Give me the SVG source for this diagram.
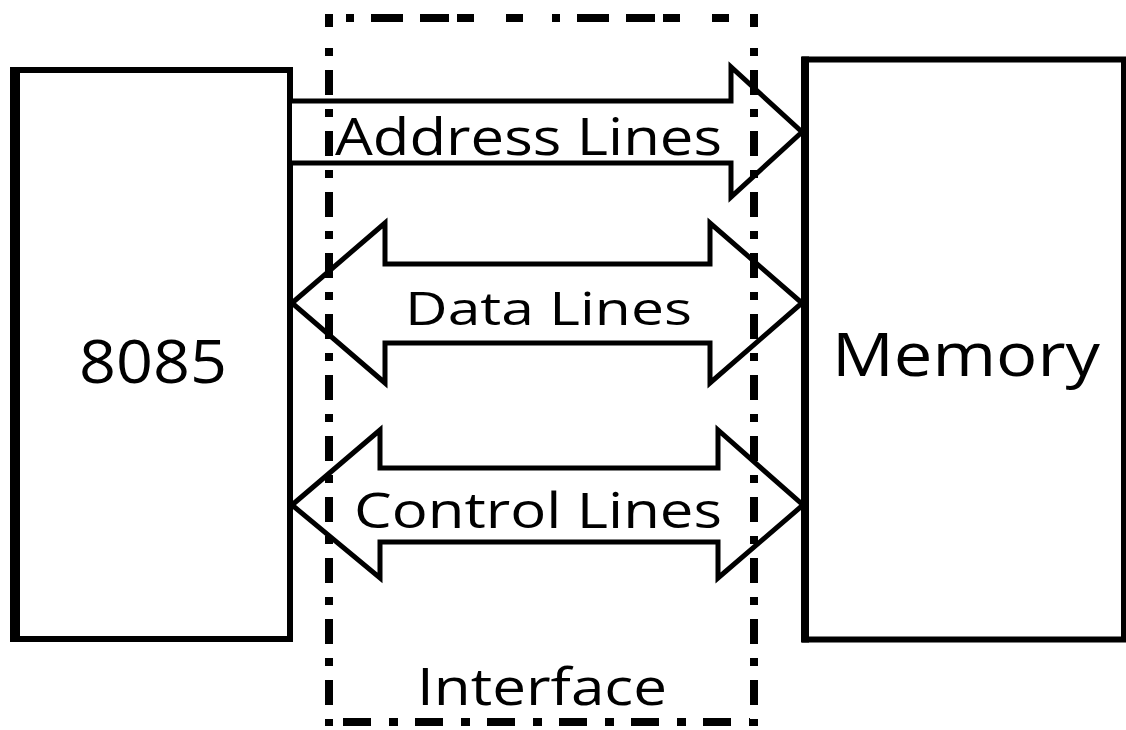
<svg xmlns="http://www.w3.org/2000/svg" width="1126" height="730" viewBox="0 0 1126 730">
  <style>
    .box { fill: #ffffff; stroke: #000000; stroke-width: 6; }
    .edge { stroke: #000000; fill: none; }
    .bus { fill: #ffffff; stroke: #000000; stroke-width: 5; stroke-linejoin: miter; stroke-miterlimit: 10; }
    .iface { stroke: #000000; stroke-width: 8; fill: none; stroke-linecap: butt; }
    .lbl { font-family: "Open Sans", "Noto Sans", "DejaVu Sans", sans-serif; fill: #000000; }
  </style>
  <rect x="0" y="0" width="1126" height="730" fill="#ffffff"/>

  <g id="node-8085">
    <rect class="box" x="15" y="70" width="275" height="569"/>
    <line class="edge" x1="15" y1="67" x2="15" y2="642" stroke-width="10"/>
    <text class="lbl" x="153" y="383" font-size="60" text-anchor="middle" textLength="148" lengthAdjust="spacingAndGlyphs">8085</text>
  </g>

  <g id="node-memory">
    <rect class="box" x="805" y="59.5" width="319" height="580"/>
    <line class="edge" x1="805" y1="56.5" x2="805" y2="642.5" stroke-width="8"/>
    <text class="lbl" x="966" y="376" font-size="60" text-anchor="middle" textLength="268" lengthAdjust="spacingAndGlyphs">Memory</text>
  </g>

  <g id="connectors">
    <path id="address-bus" class="bus" d="M292,101 H731 V67 L802,132 L731,197 V163 H292"/>
    <path id="data-bus" class="bus" d="M292,303 L385,223 V264 H710 V223 L802,303 L710,383 V343 H385 V383 Z"/>
    <path id="control-bus" class="bus" d="M292,505 L380,430 V468 H718 V430 L803,505 L718,578 V542 H380 V578 Z"/>
  </g>

  <g id="node-interface">
    <line class="iface" x1="325" y1="18" x2="758" y2="18" stroke-dasharray="0 21 8 17 32 17 8" />
    <line class="iface" x1="329" y1="14" x2="329" y2="726" stroke-dasharray="13 21 8 14 25 14 8 14 25 14 8 14 25 14 8 14 25 14 8 14 25 14 8 14 25 14 8 14 25 14 8 14 25 14 8 14 25 14 8 14 25 14 8 14 25 14 8 14 25 14 8 14 25 14 8 14 25 14 8 14 25 14 8 14"/>
    <line class="iface" x1="754" y1="14" x2="754" y2="726" stroke-dasharray="13 21 8 14 25 14 8 14 25 14 8 14 25 14 8 14 25 14 8 14 25 14 8 14 25 14 8 14 25 14 8 14 25 14 8 14 25 14 8 14 25 14 8 14 25 14 8 14 25 14 8 14 25 14 8 14 25 14 8 14 25 14 8 14 25 14 8 14"/>
    <line class="iface" x1="343" y1="722" x2="750" y2="722" stroke-dasharray="28 18 9 17"/>
    <text class="lbl" x="542" y="705" font-size="52" text-anchor="middle" textLength="250" lengthAdjust="spacingAndGlyphs">Interface</text>
  </g>

  <g id="labels">
    <text class="lbl" x="528.5" y="155" font-size="52" text-anchor="middle" textLength="387" lengthAdjust="spacingAndGlyphs">Address Lines</text>
    <text class="lbl" x="548.5" y="325" font-size="46" text-anchor="middle" textLength="287" lengthAdjust="spacingAndGlyphs">Data Lines</text>
    <text class="lbl" x="538" y="528" font-size="50" text-anchor="middle" textLength="368" lengthAdjust="spacingAndGlyphs">Control Lines</text>
  </g>
</svg>
